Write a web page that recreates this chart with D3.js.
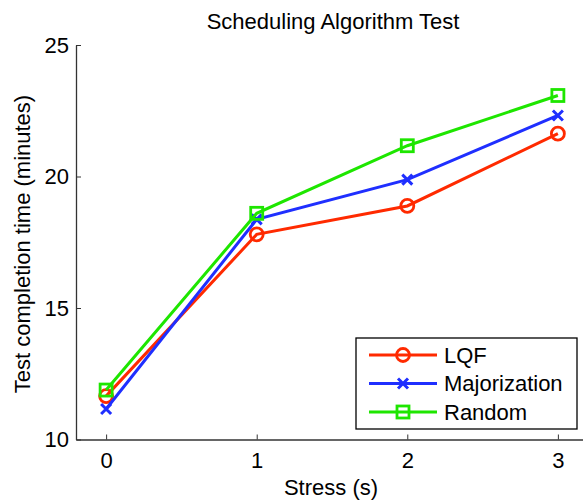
<!DOCTYPE html>
<html>
<head>
<meta charset="utf-8">
<script src="https://cdn.jsdelivr.net/npm/d3@7"></script>
<style>
  body { margin: 0; background: #fff; }
  text { font-family: "Liberation Sans", Arial, sans-serif; }
</style>
</head>
<body>
<svg id="chart" width="583" height="500"></svg>
<script>
// data
var stress = [0, 1, 2, 3];
var lqf = [11.65, 17.8, 18.88, 21.63];
var majorization = [11.16, 18.37, 19.88, 22.32];
var random = [11.88, 18.6, 21.17, 23.08];
var seriesNames = ['LQF', 'Majorization', 'Random'];
var xTicks = [0, 1, 2, 3];
var yTicks = [10, 15, 20, 25];

var series = [
    {name: seriesNames[0], values: lqf, color: '#ff2a00', marker: 'circle'},
    {name: seriesNames[1], values: majorization, color: '#1f2fff', marker: 'cross'},
    {name: seriesNames[2], values: random, color: '#1ee600', marker: 'square'}
];

var svg = d3.select('#chart');
var plotLeft = 76, plotRight = 588, plotTop = 45, plotBottom = 439.5;

var x = d3.scaleLinear().domain([-0.2, 3.2]).range([plotLeft, plotRight]);
var y = d3.scaleLinear().domain([10, 25]).range([plotBottom, plotTop]);

// axes, ticks pointing inward
var xAxis = svg.append('g')
    .attr('transform', 'translate(0,' + plotBottom + ')')
    .call(d3.axisBottom(x).tickValues(xTicks).tickFormat(d3.format('d'))
        .tickSizeInner(-5).tickSizeOuter(0).tickPadding(13));
var yAxis = svg.append('g')
    .attr('transform', 'translate(' + plotLeft + ',0)')
    .call(d3.axisLeft(y).tickValues(yTicks).tickFormat(d3.format('d'))
        .tickSizeInner(-5).tickSizeOuter(0).tickPadding(7));
[xAxis, yAxis].forEach(function(a) {
    a.select('.domain').attr('stroke', '#333').attr('stroke-width', 1.3);
    a.selectAll('.tick line').attr('stroke', '#333').attr('stroke-width', 1);
    a.selectAll('.tick text')
        .attr('fill', '#000')
        .style('font-size', '22px')
        .style('font-family', '"Liberation Sans", Arial, sans-serif');
});
xAxis.selectAll('.tick text').attr('dy', '0.71em');

// labels
svg.append('text')
    .attr('x', 333).attr('y', 29)
    .attr('text-anchor', 'middle')
    .style('font-size', '22px')
    .text('Scheduling Algorithm Test');
svg.append('text')
    .attr('x', 331).attr('y', 495)
    .attr('text-anchor', 'middle')
    .style('font-size', '22px')
    .text('Stress (s)');
svg.append('text')
    .attr('transform', 'translate(30,244) rotate(-90)')
    .attr('text-anchor', 'middle')
    .style('font-size', '22px')
    .text('Test completion time (minutes)');

function drawMarker(g, kind, color) {
    if (kind == 'circle') {
        g.append('circle').attr('r', 6.5)
            .attr('fill', 'none').attr('stroke', color).attr('stroke-width', 2.8);
    } else if (kind == 'cross') {
        g.append('path').attr('d', 'M-5,-5L5,5M-5,5L5,-5')
            .attr('fill', 'none').attr('stroke', color).attr('stroke-width', 3);
    } else {
        g.append('rect').attr('x', -6).attr('y', -6).attr('width', 12).attr('height', 12)
            .attr('fill', 'none').attr('stroke', color).attr('stroke-width', 2.8);
    }
}

var line = d3.line()
    .x(function(d, i) { return x(stress[i]); })
    .y(function(d) { return y(d); });

series.forEach(function(s) {
    svg.append('path')
        .attr('d', line(s.values))
        .attr('fill', 'none')
        .attr('stroke', s.color)
        .attr('stroke-width', 3);
    s.values.forEach(function(v, i) {
        var g = svg.append('g').attr('transform', 'translate(' + x(stress[i]) + ',' + y(v) + ')');
        drawMarker(g, s.marker, s.color);
    });
});

// legend
var legend = svg.append('g').attr('transform', 'translate(356,338)');
legend.append('rect')
    .attr('width', 221).attr('height', 91)
    .attr('fill', '#fff').attr('stroke', '#000').attr('stroke-width', 1.3);
series.forEach(function(s, i) {
    var row = legend.append('g').attr('transform', 'translate(0,' + (17 + i * 28.5) + ')');
    row.append('line').attr('x1', 13).attr('x2', 81)
        .attr('stroke', s.color).attr('stroke-width', 3);
    drawMarker(row.append('g').attr('transform', 'translate(47,0)'), s.marker, s.color);
    row.append('text')
        .attr('x', 88).attr('dy', '0.36em')
        .style('font-size', '22px')
        .text(s.name);
});
</script>
</body>
</html>
